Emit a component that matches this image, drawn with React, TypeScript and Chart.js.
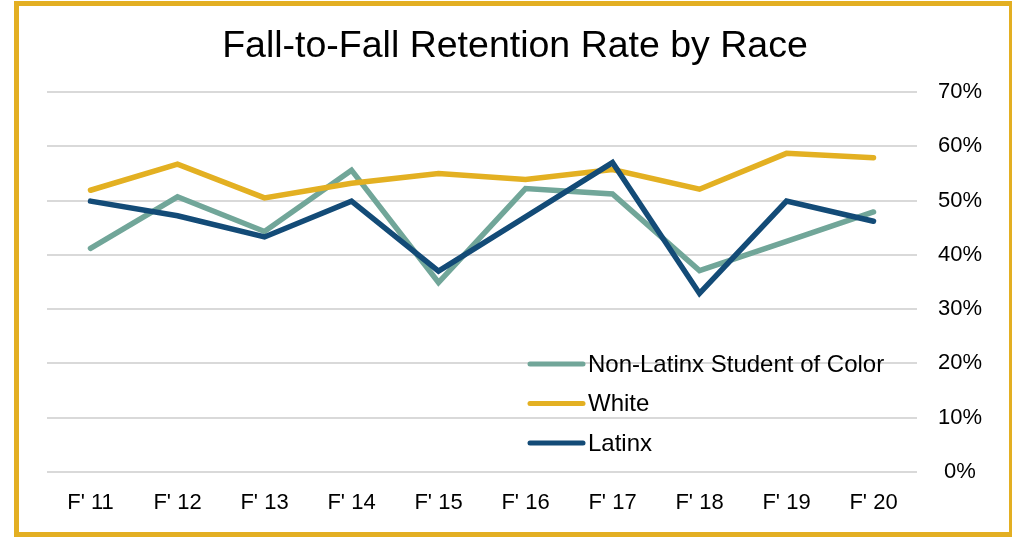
import React, { useEffect, useRef } from 'react';
import { Chart, registerables } from 'chart.js';

Chart.register(...registerables);

const categories = ["F' 11", "F' 12", "F' 13", "F' 14", "F' 15", "F' 16", "F' 17", "F' 18", "F' 19", "F' 20"];
const seriesNames = ['Non-Latinx Student of Color', 'White', 'Latinx'];
const nonLatinx = [41.2, 50.7, 44.3, 55.6, 34.9, 52.2, 51.2, 37.1, 42.5, 47.9];
const white = [51.9, 56.7, 50.5, 53.2, 55.0, 53.9, 55.7, 52.1, 58.7, 57.9];
const latinx = [49.9, 47.2, 43.3, 49.9, 37.0, 47.0, 57.0, 32.9, 49.9, 46.2];
const yTicks = [0, 10, 20, 30, 40, 50, 60, 70];

const colors = ['#71A699', '#E3B022', '#134B77'];
const FONT = '"Liberation Sans", Arial, sans-serif';

const legendPlugin = {
  id: 'insideLegend',
  afterDraw(chart: any) {
    const ctx = chart.ctx;
    const area = chart.chartArea;
    const x0 = area.left + 483;
    const lineLen = 53;
    const y0 = 364;
    const gap = 39.5;
    ctx.save();
    seriesNames.forEach((name, i) => {
      const y = y0 + i * gap;
      ctx.strokeStyle = colors[i];
      ctx.lineWidth = 5;
      ctx.lineCap = 'round';
      ctx.beginPath();
      ctx.moveTo(x0, y);
      ctx.lineTo(x0 + lineLen, y);
      ctx.stroke();
      ctx.fillStyle = '#000';
      ctx.font = `24px ${FONT}`;
      ctx.textBaseline = 'middle';
      ctx.textAlign = 'left';
      ctx.fillText(name, x0 + lineLen + 5, y + 1);
    });
    ctx.restore();
  },
};

export default function App() {
  const ref = useRef<HTMLCanvasElement | null>(null);
  useEffect(() => {
    if (!ref.current) return;
    const data = [nonLatinx, white, latinx];
    const chart = new Chart(ref.current, {
      type: 'line',
      data: {
        labels: categories,
        datasets: data.map((d, i) => ({
          label: seriesNames[i],
          data: d,
          borderColor: colors[i],
          backgroundColor: colors[i],
          borderWidth: 5.5,
          pointRadius: 0,
          tension: 0,
          borderCapStyle: 'round' as const,
          order: 2 - i,
        })),
      },
      options: {
        responsive: false,
        animation: false,
        layout: { padding: { left: 47, right: 31, top: 0, bottom: 0 } },
        plugins: {
          legend: { display: false },
          tooltip: { enabled: false },
          title: {
            display: true,
            text: 'Fall-to-Fall Retention Rate by Race',
            color: '#000',
            font: { family: FONT, size: 37.5, weight: 'normal', lineHeight: 1.2 },
            padding: { top: 24, bottom: 23 },
          },
        },
        scales: {
          x: {
            type: 'category',
            offset: true,
            grid: { display: false },
            border: { display: false },
            ticks: { color: '#000', font: { family: FONT, size: 22 }, padding: 10, maxRotation: 0 },
            afterFit: (s: any) => { s.height = 65; },
          },
          y: {
            position: 'right',
            min: 0,
            max: 70,
            afterBuildTicks: (s: any) => { s.ticks = yTicks.map((v) => ({ value: v })); },
            grid: { color: '#D9D9D9', lineWidth: 2, drawTicks: false },
            border: { display: false },
            ticks: {
              color: '#000',
              font: { family: FONT, size: 22 },
              padding: 21,
              crossAlign: 'center',
              callback: (v: any) => `${v}%`,
            },
            afterFit: (s: any) => { s.width = 66; },
          },
        },
      },
      plugins: [legendPlugin],
    });
    return () => chart.destroy();
  }, []);

  return (
    <div style={{ position: 'absolute', left: 0, top: 0, width: 1014, height: 537, background: '#fff' }}>
      <canvas ref={ref} width={1014} height={537} style={{ position: 'absolute', left: 0, top: 0 }} />
      <div
        style={{
          position: 'absolute',
          left: 14,
          top: 1,
          width: 998,
          height: 536,
          border: '5px solid #E3AF22',
          borderRight: '3px solid #E3AF22',
          boxSizing: 'border-box',
          pointerEvents: 'none',
        }}
      />
    </div>
  );
}
